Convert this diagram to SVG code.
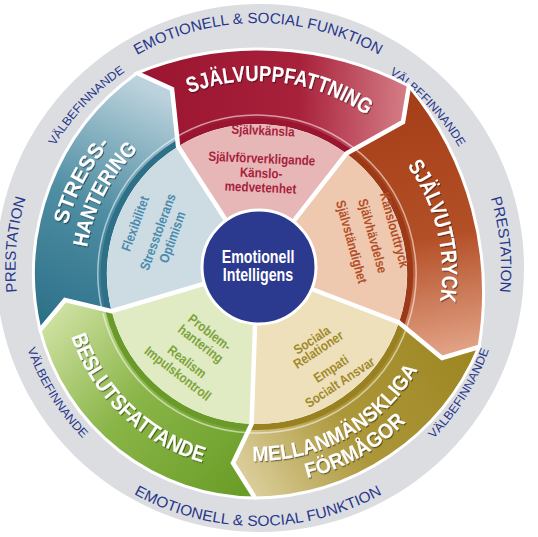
<svg xmlns="http://www.w3.org/2000/svg" width="538" height="537" viewBox="0 0 538 537">
<defs>
<style>
.outer{font-family:"Liberation Sans",Arial,sans-serif;font-size:15px;fill:#27378a;text-anchor:middle}
.vb{font-size:12px}
.band{font-family:"Liberation Sans",Arial,sans-serif;font-weight:bold;font-size:22px;fill:#fff;text-anchor:middle;filter:url(#sh)}
.b2{font-size:21px}
.pie{font-family:"Liberation Sans",Arial,sans-serif;font-weight:bold;font-size:13.5px;text-anchor:middle}
.ctr{font-family:"Liberation Sans",Arial,sans-serif;font-weight:bold;font-size:18px;fill:#fff;text-anchor:middle}
.seg{stroke:#fff;stroke-width:3;stroke-linejoin:miter}
.ring{fill:none;stroke-width:6}
.hl{fill:none;stroke:#fff;stroke-opacity:.55;stroke-width:1.5}
.gap{fill:none;stroke:#fff;stroke-width:4.5;stroke-linejoin:miter}
.tR{fill:#a71f3e}.tO{fill:#b24f28}.tG{fill:#a08a2b}.tL{fill:#7da43c}.tB{fill:#4a8bad}
</style>
<filter id="sh" x="-10%" y="-10%" width="120%" height="120%"><feDropShadow dx="1" dy="1.2" stdDeviation="0.6" flood-color="#000" flood-opacity="0.45"/></filter>
<linearGradient id="gStress" gradientUnits="userSpaceOnUse" x1="55" y1="330" x2="165" y2="95"><stop offset="0" stop-color="#2c7088"/><stop offset="0.5" stop-color="#4f8ea3"/><stop offset="1" stop-color="#bcd3dd"/></linearGradient>
<linearGradient id="gSelf" gradientUnits="userSpaceOnUse" x1="140" y1="90" x2="405" y2="100"><stop offset="0" stop-color="#9b1430"/><stop offset="0.6" stop-color="#a8213b"/><stop offset="1" stop-color="#d47c85"/></linearGradient>
<linearGradient id="gExpr" gradientUnits="userSpaceOnUse" x1="405" y1="100" x2="455" y2="350"><stop offset="0" stop-color="#a53f19"/><stop offset="0.55" stop-color="#b34f27"/><stop offset="1" stop-color="#e1a184"/></linearGradient>
<linearGradient id="gInter" gradientUnits="userSpaceOnUse" x1="470" y1="345" x2="240" y2="480"><stop offset="0" stop-color="#9d8622"/><stop offset="0.55" stop-color="#ac973a"/><stop offset="1" stop-color="#ddd09f"/></linearGradient>
<linearGradient id="gDec" gradientUnits="userSpaceOnUse" x1="245" y1="490" x2="55" y2="315"><stop offset="0" stop-color="#6a9d27"/><stop offset="0.55" stop-color="#8ab548"/><stop offset="1" stop-color="#cde0a0"/></linearGradient>
<path id="pTop" d="M84.8,94.8 A245,245 0 0 1 431.2,94.8"/>
<path id="pBot" d="M75.6,450.4 A258,258 0 0 0 440.4,450.4"/>
<path id="pVUL" d="M33.1,193.2 A237,237 0 0 1 170.8,47.6"/>
<path id="pVUR" d="M343.9,49.8 A234.5,234.5 0 0 1 480.4,193.6"/>
<path id="pVLL" d="M15.2,296.9 A244.5,244.5 0 0 0 124.1,472.6"/>
<path id="pVLR" d="M391.8,473.2 A245,245 0 0 0 501.2,297.4"/>
<path id="pPL" d="M29.4,348.9 A242.5,242.5 0 0 1 49.1,144.9"/>
<path id="pPR" d="M467.4,144.7 A243,243 0 0 1 487.1,349.1"/>
<path id="pSU" d="M151.9,112.1 A193,193 0 0 1 398.2,142.4"/>
<path id="pSX" d="M379.3,135.2 A185,185 0 0 1 429.3,341.5"/>
<path id="pST1" d="M61.1,280.8 A196,196 0 0 1 153.1,107.8"/>
<path id="pST2" d="M86.5,296.4 A172,172 0 0 1 177.6,121.4"/>
<path id="pML1" d="M221.3,457.6 A187,187 0 0 0 431.6,341"/>
<path id="pML2" d="M255.2,484 A210,210 0 0 0 437.9,380.6"/>
<path id="pBF" d="M62.1,295.2 A196,196 0 0 0 244,469.6"/>
</defs>
<rect width="538" height="537" fill="#fff"/>
<g id="outer-ring">
<circle cx="260" cy="268" r="264" fill="#dcdde1"/>
<text class="outer"><textPath href="#pTop" startOffset="50%" textLength="253" lengthAdjust="spacingAndGlyphs">EMOTIONELL &amp; SOCIAL FUNKTION</textPath></text>
<text class="outer"><textPath href="#pBot" startOffset="50%" textLength="259" lengthAdjust="spacingAndGlyphs">EMOTIONELL &amp; SOCIAL FUNKTION</textPath></text>
<text class="outer vb"><textPath href="#pVUL" startOffset="50%" textLength="103" lengthAdjust="spacingAndGlyphs">VÄLBEFINNANDE</textPath></text>
<text class="outer vb"><textPath href="#pVUR" startOffset="50%" textLength="102" lengthAdjust="spacingAndGlyphs">VÄLBEFINNANDE</textPath></text>
<text class="outer vb"><textPath href="#pVLL" startOffset="50%" textLength="106" lengthAdjust="spacingAndGlyphs">VÄLBEFINNANDE</textPath></text>
<text class="outer vb"><textPath href="#pVLR" startOffset="50%" textLength="106" lengthAdjust="spacingAndGlyphs">VÄLBEFINNANDE</textPath></text>
<text class="outer"><textPath href="#pPL" startOffset="50%" textLength="95" lengthAdjust="spacingAndGlyphs">PRESTATION</textPath></text>
<text class="outer"><textPath href="#pPR" startOffset="50%" textLength="95" lengthAdjust="spacingAndGlyphs">PRESTATION</textPath></text>
</g>
<g id="node-stresshantering">
<path class="seg" fill="url(#gStress)" d="M40,330 A247,247 0 0 1 137,73 L172,89 L178.1,146.5 A150,150 0 0 0 111.6,311.1 L65,300 Z"/>
<path class="ring" stroke="#2d7088" d="M108.7,311.8 A153,153 0 0 1 176.5,143.9"/>
<path class="hl" d="M102.9,313.3 A159,159 0 0 1 173.3,138.8"/>
<path fill="#cddce3" d="M257,268 L111.6,311.1 A150,150 0 0 1 178.1,146.5 Z"/>
<text class="band b2"><textPath href="#pST1" startOffset="50%" textLength="92" lengthAdjust="spacingAndGlyphs">STRESS-</textPath></text>
<text class="band b2"><textPath href="#pST2" startOffset="50%" textLength="112" lengthAdjust="spacingAndGlyphs">HANTERING</textPath></text>
<text class="pie tB" transform="translate(139.5,225.2) rotate(-70) scale(0.86,1)">Flexibilitet</text>
<text class="pie tB" transform="translate(162.1,233.5) rotate(-70) scale(0.86,1)">Stresstolerans</text>
<text class="pie tB" transform="translate(176.7,238.8) rotate(-70) scale(0.86,1)">Optimism</text>
</g>
<g id="node-sjalvuppfattning">
<path class="seg" fill="url(#gSelf)" d="M137,73 A323,323 0 0 1 409,86 L403,122 L346.4,153.6 A150,150 0 0 0 178.1,146.5 L172,89 Z"/>
<path class="ring" stroke="#9a1530" d="M176.5,143.9 A153,153 0 0 1 348.2,151.2"/>
<path class="hl" d="M173.3,138.8 A159,159 0 0 1 351.8,146.4"/>
<path fill="#e7b6b7" d="M257,268 L178.1,146.5 A150,150 0 0 1 346.4,153.6 Z"/>
<text class="band"><textPath href="#pSU" startOffset="50%" textLength="186" lengthAdjust="spacingAndGlyphs">SJÄLVUPPFATTNING</textPath></text>
<text class="pie tR" transform="translate(262.8,135.1) rotate(2.5) scale(0.86,1)">Självkänsla</text>
<text class="pie tR" transform="translate(261.6,163.1) rotate(2.5) scale(0.86,1)">Självförverkligande</text>
<text class="pie tR" transform="translate(260.9,177.6) rotate(2.5) scale(0.86,1)">Känslo-</text>
<text class="pie tR" transform="translate(260.3,192.1) rotate(2.5) scale(0.86,1)">medvetenhet</text>
</g>
<g id="node-sjalvuttryck">
<path class="seg" fill="url(#gExpr)" d="M409,86 A325,325 0 0 1 479,347 L442,358 L398.9,322.5 A150,150 0 0 0 346.4,153.6 L403,122 Z"/>
<path class="ring" stroke="#9c3a17" d="M348.2,151.2 A153,153 0 0 1 401.8,323.5"/>
<path class="hl" d="M351.8,146.4 A159,159 0 0 1 407.5,325.4"/>
<path fill="#efc8b0" d="M257,268 L346.4,153.6 A150,150 0 0 1 398.9,322.5 Z"/>
<text class="band"><textPath href="#pSX" startOffset="50%" textLength="143" lengthAdjust="spacingAndGlyphs">SJÄLVUTTRYCK</textPath></text>
<text class="pie tO" transform="translate(390,231.1) rotate(74.5) scale(0.86,1)">Känslouttryck</text>
<text class="pie tO" transform="translate(368.3,237.1) rotate(74.5) scale(0.86,1)">Självhävdelse</text>
<text class="pie tO" transform="translate(347.1,243) rotate(74.5) scale(0.86,1)">Självständighet</text>
</g>
<g id="node-mellanmanskliga">
<path class="seg" fill="url(#gInter)" d="M479,347 A246,246 0 0 1 255,498 L233,463 L251.6,423.9 A150,150 0 0 0 398.9,322.5 L442,358 Z"/>
<path class="ring" stroke="#998021" d="M401.8,323.5 A153,153 0 0 1 251.5,426.9"/>
<path class="hl" d="M407.5,325.4 A159,159 0 0 1 251.3,432.9"/>
<path fill="#eee0bb" d="M257,268 L398.9,322.5 A150,150 0 0 1 251.6,423.9 Z"/>
<text class="band b2"><textPath href="#pML1" startOffset="50%" textLength="198" lengthAdjust="spacingAndGlyphs">MELLANMÄNSKLIGA</textPath></text>
<text class="band b2"><textPath href="#pML2" startOffset="50%" textLength="115" lengthAdjust="spacingAndGlyphs">FÖRMÅGOR</textPath></text>
<text class="pie tG" transform="translate(314.4,343.9) rotate(-33.5) scale(0.86,1)">Sociala</text>
<text class="pie tG" transform="translate(320.8,353.5) rotate(-33.5) scale(0.86,1)">Relationer</text>
<text class="pie tG" transform="translate(333.5,372.7) rotate(-33.5) scale(0.86,1)">Empati</text>
<text class="pie tG" transform="translate(342.4,386.1) rotate(-33.5) scale(0.86,1)">Socialt Ansvar</text>
</g>
<g id="node-beslutsfattande">
<path class="seg" fill="url(#gDec)" d="M255,498 A224,224 0 0 1 40,330 L65,300 L111.6,311.1 A150,150 0 0 0 251.6,423.9 L233,463 Z"/>
<path class="ring" stroke="#6a9a2a" d="M251.5,426.9 A153,153 0 0 1 108.7,311.8"/>
<path class="hl" d="M251.3,432.9 A159,159 0 0 1 102.9,313.3"/>
<path fill="#e0eac3" d="M257,268 L251.6,423.9 A150,150 0 0 1 111.6,311.1 Z"/>
<text class="band"><textPath href="#pBF" startOffset="50%" textLength="189" lengthAdjust="spacingAndGlyphs">BESLUTSFATTANDE</textPath></text>
<text class="pie tL" transform="translate(206.9,336) rotate(37.75) scale(0.86,1)">Problem-</text>
<text class="pie tL" transform="translate(198,347.5) rotate(37.75) scale(0.86,1)">hantering</text>
<text class="pie tL" transform="translate(184.2,365.3) rotate(37.75) scale(0.86,1)">Realism</text>
<text class="pie tL" transform="translate(175,377.1) rotate(37.75) scale(0.86,1)">Impulskontroll</text>
</g>
<g id="separators">
<path class="gap" d="M257,268 L178.1,146.5 L172,89 L137,73"/>
<path class="gap" d="M257,268 L346.4,153.6 L403,122 L409,86"/>
<path class="gap" d="M257,268 L398.9,322.5 L442,358 L479,347"/>
<path class="gap" d="M257,268 L251.6,423.9 L233,463 L255,498"/>
<path class="gap" d="M257,268 L111.6,311.1 L65,300 L40,330"/>
</g>
<g id="node-center">
<circle cx="259" cy="267" r="57" fill="#2b3a8f" stroke="#fff" stroke-width="3"/>
<text class="ctr" transform="translate(258,263) scale(0.79,1)">Emotionell</text>
<text class="ctr" transform="translate(258,281) scale(0.79,1)">Intelligens</text>
</g>
</svg>
